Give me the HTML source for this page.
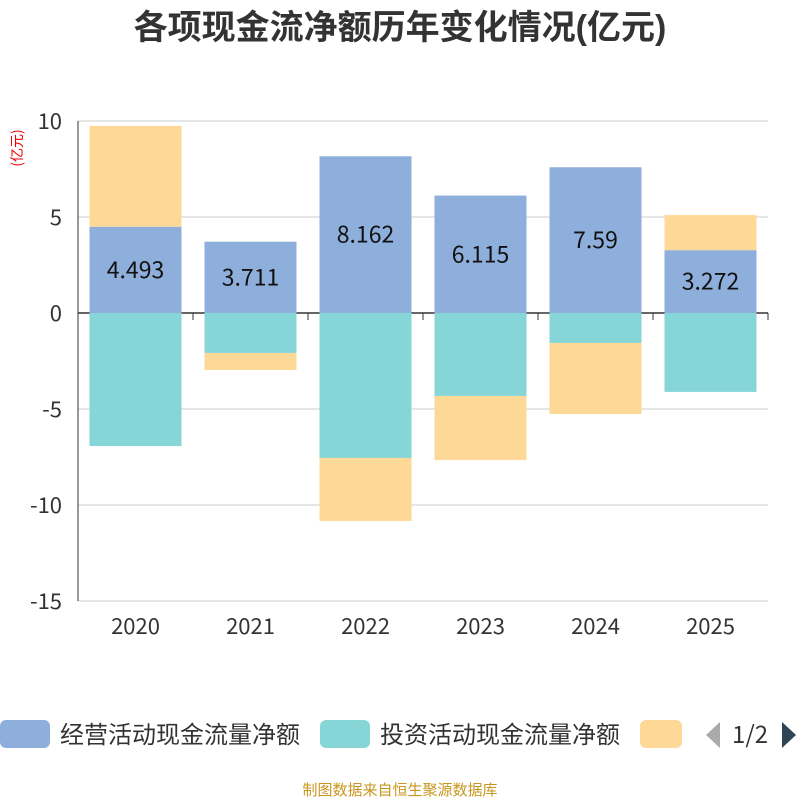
<!DOCTYPE html>
<html><head><meta charset="utf-8"><style>
body{margin:0;background:#fff;width:800px;height:800px;overflow:hidden;font-family:"Noto Sans CJK SC","Liberation Sans",sans-serif}
</style></head><body>
<svg id="c" width="800" height="800" xmlns="http://www.w3.org/2000/svg">
<text x="400" y="39" text-anchor="middle" font-size="34" font-weight="bold" fill="#333" font-family="Liberation Sans,Noto Sans CJK SC,sans-serif">各项现金流净额历年变化情况(亿元)</text>
<text transform="translate(22,148) rotate(-90)" text-anchor="middle" font-size="14" fill="#e00" font-family="Noto Sans CJK SC,sans-serif">(亿元)</text>
<g id="grid"></g><g id="bars"></g><g id="axes"></g>
<g font-family="Noto Sans CJK SC,sans-serif" font-size="24" fill="#333">
<rect x="0" y="720" width="50" height="28" rx="6" fill="#8eaedb"/>
<text x="60" y="743">经营活动现金流量净额</text>
<rect x="320" y="720" width="50" height="28" rx="6" fill="#86d6d8"/>
<text x="380" y="743">投资活动现金流量净额</text>
<rect x="640" y="720" width="42" height="28" rx="6" fill="#fed897"/>
<polygon points="720,722 720,748 706,735" fill="#aaa"/>
<text x="732" y="743">1/2</text>
<polygon points="782,722 782,748 796,735" fill="#2f4554"/>
</g>
<text x="400" y="795" text-anchor="middle" font-size="15" fill="#c8961e" font-family="Noto Sans CJK SC,sans-serif">制图数据来自恒生聚源数据库</text>
</svg>
<script>
const categories=["2020","2021","2022","2023","2024","2025"];
const operating=[4.493,3.711,8.162,6.115,7.59,3.272];
const investing=[-6.93,-2.08,-7.55,-4.32,-1.56,-4.11];
const financing=[5.25,-0.89,-3.28,-3.34,-3.7,1.83];
const labels=["4.493","3.711","8.162","6.115","7.59","3.272"];
const yTicks=[10,5,0,-5,-10,-15];
const NS="http://www.w3.org/2000/svg";
const FF="Noto Sans CJK SC,Liberation Sans,sans-serif";
const x0=78,x1=768,band=(x1-x0)/categories.length,bw=92;
function y(v){return 313-v*19.2;}
function xc(i){return x0+band*(i+0.5);}
function mk(tag,attrs,parent){const e=document.createElementNS(NS,tag);for(const k in attrs)e.setAttribute(k,attrs[k]);document.getElementById(parent).appendChild(e);return e;}
yTicks.forEach(t=>{
 const l=mk("line",{x1:x0,x2:x1,y1:y(t),y2:y(t),stroke:t===0?"#333":"#ccc","stroke-width":t===0?1.5:1},"grid");
 
 
 const tx=mk("text",{x:x0-16,y:y(t)+8,"text-anchor":"end","font-size":22,fill:"#333","font-family":FF},"axes");
 tx.textContent=t;
 
 
});
const ya=mk("line",{x1:x0,x2:x0,y1:y(10),y2:y(-15),stroke:"#333"},"axes");


const colors=["#8eaedb","#86d6d8","#fed897"];
const series=[operating,investing,financing];
categories.forEach((c,i)=>{
 let pos=0,neg=0;
 series.forEach((s,k)=>{
  const v=s[i];let a,b;
  if(v>=0){a=pos;b=pos+v;pos=b;}else{a=neg;b=neg+v;neg=b;}
  const r=mk("rect",{x:xc(i)-bw/2,y:Math.min(y(a),y(b)),width:bw,height:Math.abs(y(a)-y(b)),fill:colors[k]},"bars");
  
  
 });
 const lb=mk("text",{x:xc(i),y:y(operating[i]/2)+8,"text-anchor":"middle","font-size":23,fill:"#111","font-family":FF},"bars");
 lb.textContent=labels[i];
 
 
 const xt=mk("text",{x:xc(i),y:634,"text-anchor":"middle","font-size":22,fill:"#333","font-family":FF},"axes");
 xt.textContent=c;
 
 
});
for(let i=0;i<=categories.length;i++){
 const tk=mk("line",{x1:x0+band*i,x2:x0+band*i,y1:313,y2:320,stroke:"#333"},"axes");
 
 
}
</script>
</body></html>
